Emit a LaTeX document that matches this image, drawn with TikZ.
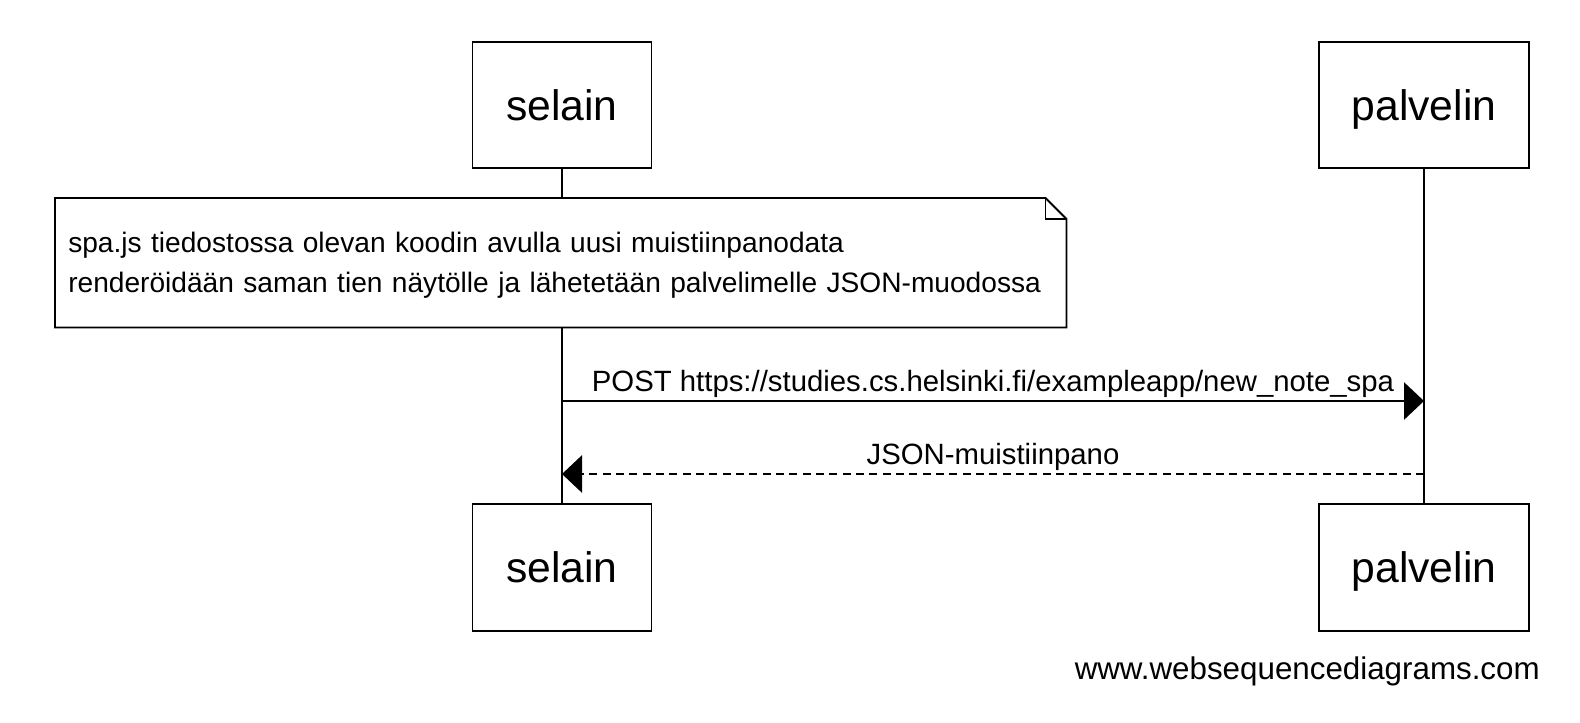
\documentclass[tikz,border=0pt]{standalone}
\usepackage{fontspec}
\setmainfont{Liberation Sans}
\usetikzlibrary{arrows.meta}

\begin{document}
\begin{tikzpicture}[
      x=0.75pt, y=-0.75pt,
      actor/.style={draw, line width=1.4pt, fill=white, inner sep=0pt, minimum height=95pt,
        font=\fontsize{32}{38}\selectfont, text height=23pt, text depth=0pt},
      notebox/.style={fill=white, inner xsep=9.75pt, inner ysep=0pt, align=left,
        text width=738.75pt, minimum width=758.25pt, minimum height=96.75pt,
        font=\fontsize{21.1}{30}\selectfont, text height=15pt, text depth=30.75pt},
      life/.style={line width=1.3pt},
      msg/.style={line width=1.3pt, -{Triangle[length=15pt,width=28pt]}},
      reply/.style={msg, dash pattern=on 6pt off 4pt},
      lbl/.style={anchor=base, yshift=7.5pt, inner sep=0pt, font=\fontsize{22}{26}\selectfont}
    ]

    \useasboundingbox (0,0) rectangle (1580,722);

    % ---- lifeline positions ----
    \def\xs{562}
    \def\xp{1424}

    % ---- row positions ----
    \def\ytop{105}
    \def\ybot{567.5}
    \def\ypost{401}
    \def\yjson{474}

    % ================= participants =================
    \node[actor, minimum width=134.25pt] (selainT) at (\xs,\ytop) {selain};
    \node[actor, minimum width=157.5pt] (palvelinT) at (\xp,\ytop) {palvelin};
    \node[actor, minimum width=134.25pt] (selainB) at (\xs,\ybot) {selain};
    \node[actor, minimum width=157.5pt] (palvelinB) at (\xp,\ybot) {palvelin};

    \draw[life] (selainT) -- (selainB);
    \draw[life] (palvelinT) -- (palvelinB);

    % ================= note over selain =================
    \node[notebox, anchor=north west] (note) at (55,198)
      {spa.js tiedostossa olevan koodin avulla uusi muistiinpanodata\\
       renderöidään saman tien näytölle ja lähetetään palvelimelle JSON-muodossa};
    \draw[line width=1.4pt] (note.north west) -- ([xshift=-15.75pt]note.north east)
      -- ([yshift=-15.75pt]note.north east) -- (note.south east) -- (note.south west) -- cycle;
    \draw[line width=1.4pt] ([xshift=-15.75pt]note.north east) |- ([yshift=-15.75pt]note.north east);

    % ================= messages =================
    \coordinate (postS) at (\xs,\ypost);
    \coordinate (postP) at (\xp,\ypost);
    \coordinate (jsonS) at (\xs,\yjson);
    \coordinate (jsonP) at (\xp,\yjson);

    \draw[msg] (postS) -- (postP)
      node[midway, lbl] (postlbl) {POST https://studies.cs.helsinki.fi/exampleapp/new\_note\_spa};
    \draw[reply] (jsonP) -- (jsonS)
      node[midway, lbl] (jsonlbl) {JSON-muistiinpano};

    % ---- footer ----
    \node[anchor=base east, inner sep=0pt, font=\fontsize{23.5}{28}\selectfont] (footer)
      at (1540,679) {www.websequencediagrams.com};

  \end{tikzpicture}
\end{document}
